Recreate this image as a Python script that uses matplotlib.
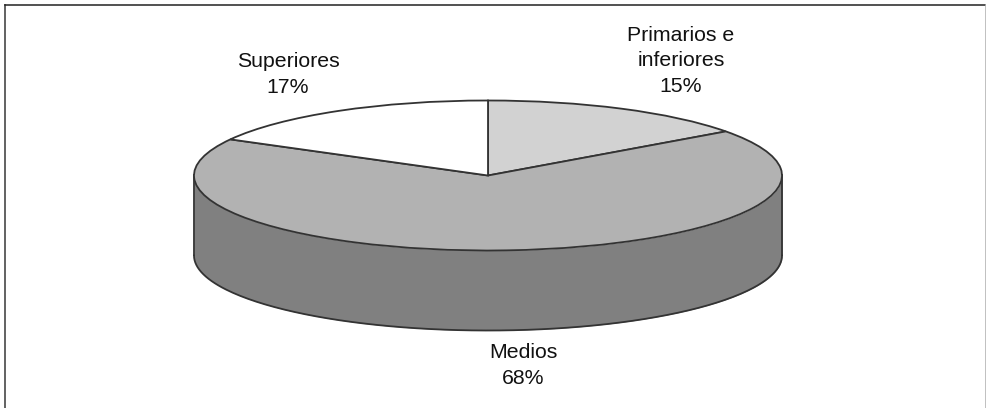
import numpy as np
import matplotlib
matplotlib.use("Agg")
import matplotlib.pyplot as plt

# Data
labels = ["Primarios e\ninferiores", "Medios", "Superiores"]
values = [15, 68, 17]
top_colors = ["#d2d2d2", "#b2b2b2", "#ffffff"]
side_color = "#808080"

W, H = 986, 408
cx, cy = 488, 175.5   # centre of the top ellipse, px
rx, ry = 294, 75    # radii, px
depth = 80

plt.rcParams['font.family'] = ['Liberation Sans', 'DejaVu Sans']

fig = plt.figure(figsize=(W / 100, H / 100), dpi=100)
ax = fig.add_axes([0, 0, 1, 1])

# side of the cylinder, one unit on y = ry pixels
d = depth / ry
t = np.linspace(np.pi, 2 * np.pi, 200)
edge = "#333333"
ax.fill_between(np.cos(t), np.sin(t) - d, np.sin(t), color=side_color, lw=0, zorder=1)
ax.plot(np.cos(t), np.sin(t) - d, color=edge, lw=1.3, zorder=2)
ax.plot([-1, -1], [0, -d], color=edge, lw=1.3, zorder=2)
ax.plot([1, 1], [0, -d], color=edge, lw=1.3, zorder=2)

# top of the pie
ax.pie(values, colors=top_colors, startangle=90, counterclock=False, radius=1,
       wedgeprops=dict(edgecolor=edge, linewidth=1.3, zorder=3))

ax.set_aspect("auto")
ax.set_xlim(-cx / rx, (W - cx) / rx)
ax.set_ylim(-(H - cy) / ry, cy / ry)


def px(x, y):
    return (x - cx) / rx, (cy - y) / ry


# label text
fs = 15.3
lab_pos = [(681, 61), (523, 365.5), (288, 74.5)]
pct_lab = [f"{l}\n{v}%" for l, v in zip(labels, values)]
for (x, y), s in zip(lab_pos, pct_lab):
    ax.text(*px(x, y), s, ha="center", va="center", fontsize=fs, color="#111111",
            linespacing=1.45, zorder=5)

# frame: open at the bottom, right side much lighter
ax.plot(*zip(px(5, H), px(5, 5)), color="#555555", lw=1.3, zorder=5, clip_on=False)
ax.plot(*zip(px(5, 5), px(985.5, 5)), color="#222222", lw=1.1, zorder=5, clip_on=False)
ax.plot(*zip(px(985.5, 5), px(985.5, H)), color="#b5b5b5", lw=1.2, zorder=5, clip_on=False)

fig.savefig("out.png", dpi=100)
